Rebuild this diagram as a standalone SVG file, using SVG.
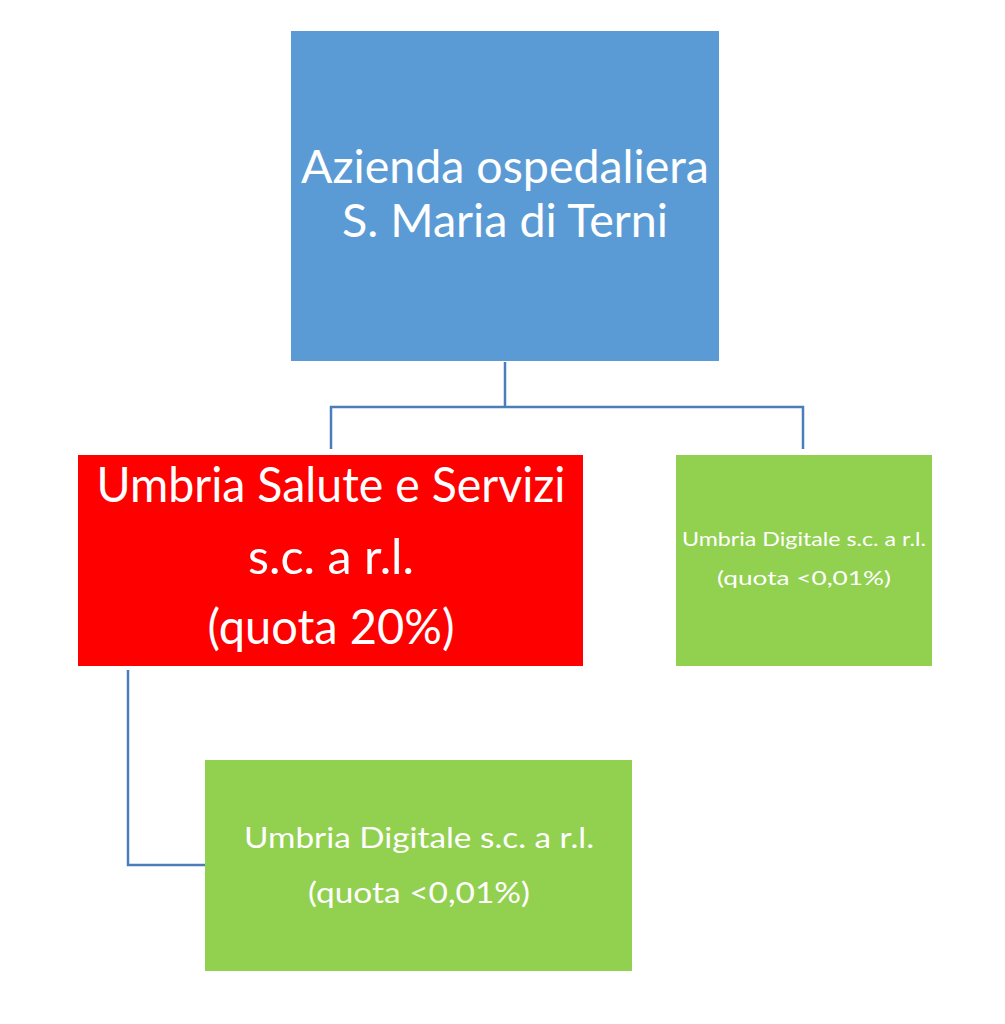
<svg xmlns="http://www.w3.org/2000/svg" width="1005" height="1024" viewBox="0 0 1005 1024">
<style>
.t{font-family:Lato,"Open Sans","Liberation Sans",sans-serif;fill:#ffffff;text-anchor:middle}
.c{fill:none;stroke:#4A7EBB;stroke-width:2.5}
</style>
<rect width="1005" height="1024" fill="#ffffff"/>
<g id="connectors">
<path class="c" d="M505,362 V407 M331,449 V407 H803 V449"/>
<path class="c" d="M128,670 V865 H205"/>
</g>
<g id="azienda">
<rect x="291" y="31" width="428" height="330" fill="#5B9BD5"/>
<text class="t" x="505" y="183" font-size="47" textLength="408" lengthAdjust="spacingAndGlyphs">Azienda ospedaliera</text>
<text class="t" x="505" y="237" font-size="47" textLength="326" lengthAdjust="spacingAndGlyphs">S. Maria di Terni</text>
</g>
<g id="umbria-salute">
<rect x="78" y="455" width="505" height="211" fill="#FF0000"/>
<text class="t" x="331" y="502" font-size="49" textLength="469" lengthAdjust="spacingAndGlyphs">Umbria Salute e Servizi</text>
<text class="t" x="331" y="574" font-size="49" textLength="166" lengthAdjust="spacingAndGlyphs">s.c. a r.l.</text>
<text class="t" x="331" y="644" font-size="49" textLength="247" lengthAdjust="spacingAndGlyphs">(quota 20%)</text>
</g>
<g id="umbria-digitale-1">
<rect x="676" y="455" width="256" height="211" fill="#92D050"/>
<text class="t" x="804" y="546" font-size="20" textLength="244" lengthAdjust="spacingAndGlyphs">Umbria Digitale s.c. a r.l.</text>
<text class="t" x="804" y="585" font-size="20" textLength="174" lengthAdjust="spacingAndGlyphs">(quota &lt;0,01%)</text>
</g>
<g id="umbria-digitale-2">
<rect x="205" y="760" width="427" height="211" fill="#92D050"/>
<text class="t" x="419" y="848" font-size="28" textLength="350" lengthAdjust="spacingAndGlyphs">Umbria Digitale s.c. a r.l.</text>
<text class="t" x="419" y="903" font-size="28" textLength="222" lengthAdjust="spacingAndGlyphs">(quota &lt;0,01%)</text>
</g>
</svg>
